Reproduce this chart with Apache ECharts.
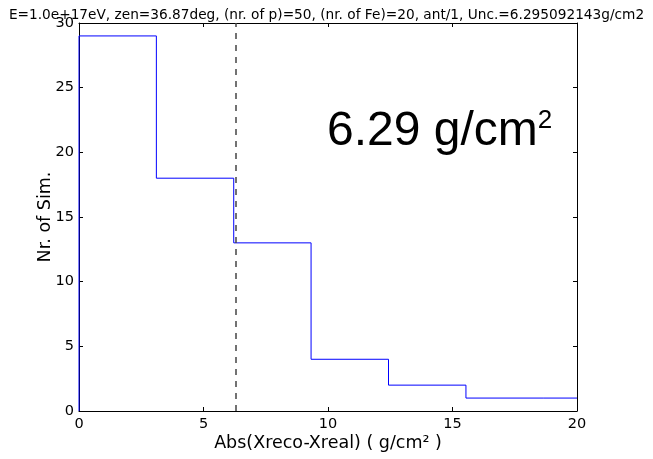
<!DOCTYPE html>
<html>
<head>
<meta charset="utf-8">
<script src="https://cdn.jsdelivr.net/npm/echarts@6/dist/echarts.min.js"></script>
<style>
  html, body { margin: 0; padding: 0; background: #fff; }
  #main { width: 653px; height: 459px; }
</style>
</head>
<body>
<div id="main"></div>
<script>
// histogram bins (left edges) and counts
var binEdges = [0, 3.107, 6.214, 9.32, 12.43, 15.54, 18.64];
var counts = [29, 18, 13, 4, 2, 1, 1];
var xMax = 20;
var uncertainty = 6.295092143;
var xTicks = [0, 5, 10, 15, 20];
var yTicks = [0, 5, 10, 15, 20, 25, 30];

// step outline: start on the baseline, then one point per bin left edge
var stepData = [[0, 0]];
for (var i = 0; i < binEdges.length; i++) {
  stepData.push([binEdges[i], counts[i]]);
}
stepData.push([xMax, counts[counts.length - 1]]);

var font = 'DejaVu Sans';
var chart = echarts.init(document.getElementById('main'));

var option = {
  backgroundColor: '#ffffff',
  animation: false,
  title: {
    text: 'E=1.0e+17eV, zen=36.87deg, (nr. of p)=50, (nr. of Fe)=20, ant/1, Unc.=6.295092143g/cm2',
    left: 'center',
    top: 3,
    textStyle: { fontFamily: font, fontSize: 13.7, fontWeight: 'normal', color: '#000' }
  },
  grid: { left: 79, top: 23, right: 76, bottom: 48, outerBoundsMode: 'none' },
  xAxis: [{
    type: 'value',
    min: 0, max: xMax, interval: 5,
    name: 'Abs(Xreco-Xreal) ( g/cm² )',
    nameLocation: 'middle',
    nameGap: 23,
    nameMoveOverlap: false,
    nameTextStyle: { fontFamily: font, fontSize: 17.5, color: '#000' },
    axisLine: { show: true, lineStyle: { color: '#000', width: 1 } },
    axisTick: { show: true, inside: true, length: 4, lineStyle: { color: '#000' } },
    axisLabel: { fontFamily: font, fontSize: 14.5, color: '#000', margin: 6 },
    splitLine: { show: false }
  }, {
    type: 'value',
    position: 'top',
    min: 0, max: xMax, interval: 5,
    axisLine: { show: true, onZero: false, lineStyle: { color: '#000', width: 1 } },
    axisTick: { show: true, inside: true, length: 4, lineStyle: { color: '#000' } },
    axisLabel: { show: false },
    splitLine: { show: false }
  }],
  yAxis: [{
    type: 'value',
    min: 0, max: 30, interval: 5,
    name: 'Nr. of Sim.',
    nameLocation: 'middle',
    nameGap: 25,
    nameMoveOverlap: false,
    nameTextStyle: { fontFamily: font, fontSize: 17.5, color: '#000' },
    axisLine: { show: true, lineStyle: { color: '#000', width: 1 } },
    axisTick: { show: true, inside: true, length: 4, lineStyle: { color: '#000' } },
    axisLabel: { fontFamily: font, fontSize: 14.5, color: '#000', margin: 5 },
    splitLine: { show: false }
  }, {
    type: 'value',
    position: 'right',
    min: 0, max: 30, interval: 5,
    axisLine: { show: true, onZero: false, lineStyle: { color: '#000', width: 1 } },
    axisTick: { show: true, inside: true, length: 4, lineStyle: { color: '#000' } },
    axisLabel: { show: false },
    splitLine: { show: false }
  }],
  series: [{
    type: 'line',
    step: 'end',
    data: stepData,
    symbol: 'none',
    lineStyle: { color: '#0000ff', width: 1 },
    markLine: {
      silent: true,
      symbol: ['none', 'none'],
      label: { show: false },
      lineStyle: { color: '#444444', type: [6, 6], width: 1.5 },
      data: [{ xAxis: uncertainty }]
    }
  }],
  graphic: [{
    type: 'text',
    left: 327,
    top: 108,
    style: {
      text: '{a|6.29 g/cm}{s|2}',
      rich: {
        a: { fontFamily: 'Liberation Sans', fontSize: 48, fill: '#000' },
        s: { fontFamily: 'Liberation Sans', fontSize: 26, fill: '#000', verticalAlign: 'top', padding: [0, 0, 22, 0] }
      }
    }
  }]
};

chart.setOption(option);
</script>
</body>
</html>
